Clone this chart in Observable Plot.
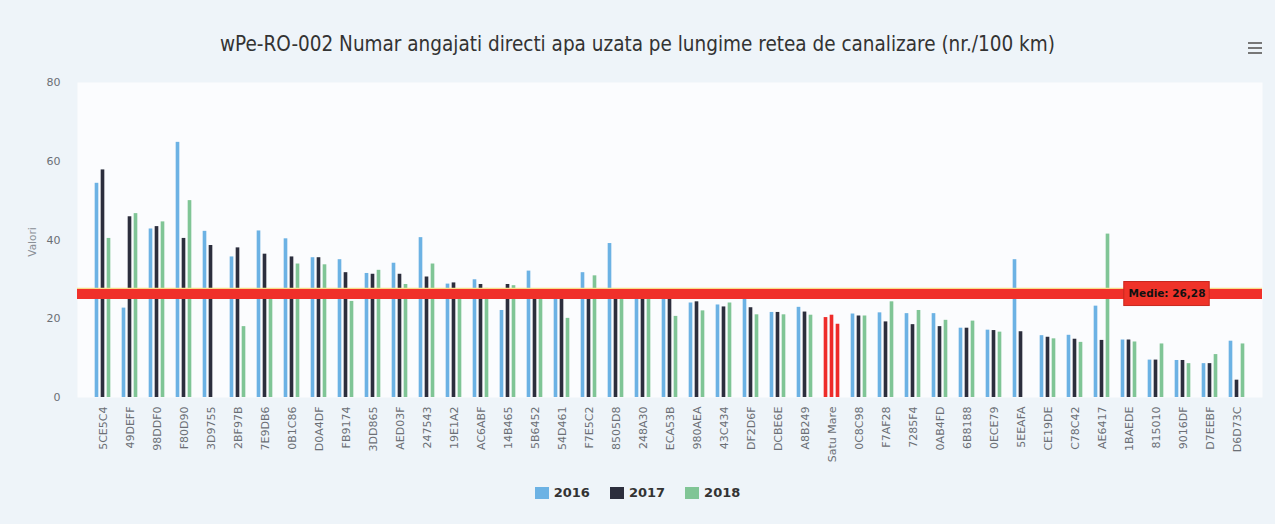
<!DOCTYPE html>
<html>
<head>
<meta charset="utf-8">
<script src="https://cdn.jsdelivr.net/npm/d3@7"></script>
<script src="https://cdn.jsdelivr.net/npm/@observablehq/plot@0.6"></script>
<style>
  html, body { margin: 0; padding: 0; }
  body { width: 1275px; height: 524px; overflow: hidden; background: #eef4f9; font-family: "DejaVu Sans", sans-serif; }
  #wrap { position: relative; width: 1275px; height: 524px; }
  #title { position: absolute; top: 32px; left: 0; width: 1275px; text-align: center;
           font-family: "DejaVu Sans Condensed", "DejaVu Sans", sans-serif; font-size: 20.5px; color: #333; white-space: nowrap; }
  #chart { position: absolute; top: 60px; left: 0; }
  #ylabel { position: absolute; left: 32px; top: 242px; transform: translate(-50%, -50%) rotate(-90deg);
            font-size: 10.5px; color: #8a8f96; white-space: nowrap; }
  #legend { position: absolute; top: 485px; left: 0; width: 1275px; display: flex; justify-content: center; }
  .item { display: flex; align-items: center; margin: 0 10px; font-weight: bold; font-size: 13px; color: #333; }
  .sw { width: 14px; height: 12px; margin-right: 5px; }
  #menu { position: absolute; left: 1248px; top: 42px; width: 14px; }
  #menu div { height: 2px; background: #777; margin-bottom: 3px; }
</style>
</head>
<body>
<div id="wrap">
  <div id="title"></div>
  <div id="ylabel"></div>
  <div id="menu"><div></div><div></div><div></div></div>
  <div id="chart"></div>
  <div id="legend"></div>
</div>
<script>
const titleText = "wPe-RO-002 Numar angajati directi apa uzata pe lungime retea de canalizare (nr./100 km)";
const yAxisTitle = "Valori";
const categories = ["5CE5C4","49DEFF","98DDF0","F80D90","3D9755","2BF97B","7E9DB6","0B1C86","D0A4DF","FB9174",
  "3DD865","AED03F","247543","19E1A2","AC6ABF","14B465","5B6452","54D461","F7E5C2","8505D8",
  "248A30","ECA53B","980AEA","43C434","DF2D6F","DCBE6E","A8B249","Satu Mare","0C8C98","F7AF28",
  "7285F4","0AB4FD","6B8188","0ECE79","5EEAFA","CE19DE","C78C42","AE6417","1BAEDE","815010",
  "9016DF","D7EEBF","D6D73C"];
const v2016 = [54.4,22.7,42.8,64.8,42.2,35.7,42.3,40.3,35.5,35.0,
  31.5,34.1,40.6,28.8,29.9,22.1,32.1,25.8,31.7,39.1,
  26.3,26.0,24.0,23.5,25.3,21.6,22.9,20.3,21.2,21.5,
  21.3,21.3,17.6,17.1,35.0,15.7,15.8,23.2,14.6,9.5,
  9.4,8.6,14.3];
const v2017 = [57.8,45.9,43.4,40.4,38.6,38.0,36.4,35.7,35.5,31.7,
  31.3,31.3,30.6,29.1,28.7,28.7,26.0,25.6,26.0,26.0,
  26.0,25.9,24.3,23.0,22.8,21.6,21.7,20.9,20.7,19.2,
  18.5,18.0,17.6,17.0,16.7,15.3,14.8,14.5,14.6,9.5,
  9.4,8.6,4.4];
const v2018 = [40.4,46.7,44.6,50.0,null,18.0,27.3,33.9,33.7,24.4,
  32.3,28.7,33.9,26.0,27.7,28.4,25.8,20.1,30.9,25.8,
  25.9,20.6,22.0,24.0,21.0,21.0,20.9,18.6,20.7,24.3,
  22.1,19.6,19.4,16.6,null,14.9,14.0,41.5,14.1,13.6,
  8.6,10.9,13.6];
const years = ["2016","2017","2018"];
const yearColors = ["#6cb2e4","#2c2e3d","#80c596"];
const highlightCategory = "Satu Mare";
const highlightColor = "#ee2c2a";
const meanValue = 26.28;
const meanLabel = "Medie: 26,28";
const meanLabelCategory = "815010";
const yTicks = [0,20,40,60,80];

document.getElementById("title").textContent = titleText;
document.getElementById("ylabel").textContent = yAxisTitle;

const series = [v2016, v2017, v2018];
const rows = years.flatMap((yr, k) => categories.map((c, i) => ({cat: c, year: yr, k, value: series[k][i]})))
  .filter(d => d.value != null);

const W = 1275, mL = 77, mR = 13;
const step = (W - mL - mR) / categories.length;
const barW = 4.2;
const inset = (step - barW) / 2;
const offsets = [-6, 0, 6];
const boxW = 86;
const boxInset = (step - boxW) / 2;
const boxHalf = 3.05;
const labelShift = 11;

const marks = [
  Plot.frame({fill: "#fbfcfe", stroke: null}),
  ...years.map((yr, k) => Plot.barY(rows.filter(d => d.k === k), {
    x: "cat", y: "value",
    fill: d => d.cat === highlightCategory ? highlightColor : yearColors[k],
    insetLeft: inset, insetRight: inset, dx: offsets[k]
  })),
  Plot.ruleY([meanValue], {stroke: "#f8dc8a", strokeWidth: 1.5, dy: -5.5}),
  Plot.ruleY([meanValue], {stroke: "#f0302a", strokeWidth: 10}),
  Plot.barY([{cat: meanLabelCategory, lo: meanValue - boxHalf, hi: meanValue + boxHalf}], {
    x: "cat", y1: "lo", y2: "hi", fill: "#ef3329", stroke: "#c8281f", strokeWidth: 1,
    insetLeft: boxInset, insetRight: boxInset, dx: labelShift
  }),
  Plot.text([{cat: meanLabelCategory, v: meanValue, t: meanLabel}], {
    x: "cat", y: "v", text: "t", dx: labelShift, fill: "#111", fontWeight: "bold", fontSize: 10.5
  }),
  Plot.axisY({ticks: yTicks, tickSize: 0, tickPadding: 17, fontSize: 11, label: null}),
  Plot.axisX({tickRotate: -90, tickSize: 0, tickPadding: 9, fontSize: 11, label: null})
];

const chart = Plot.plot({
  width: W, height: 407,
  marginLeft: mL, marginRight: mR, marginTop: 22, marginBottom: 70,
  x: {domain: categories, padding: 0},
  y: {domain: [0, 80]},
  color: {type: "identity"},
  style: {fontFamily: "DejaVu Sans, sans-serif", color: "#6b6f75", background: "transparent"},
  marks
});
document.getElementById("chart").appendChild(chart);

const legend = document.getElementById("legend");
years.forEach((yr, k) => {
  const it = document.createElement("div"); it.className = "item";
  const sw = document.createElement("div"); sw.className = "sw"; sw.style.background = yearColors[k];
  const tx = document.createElement("span"); tx.textContent = yr;
  it.appendChild(sw); it.appendChild(tx); legend.appendChild(it);
});
</script>
</body>
</html>
